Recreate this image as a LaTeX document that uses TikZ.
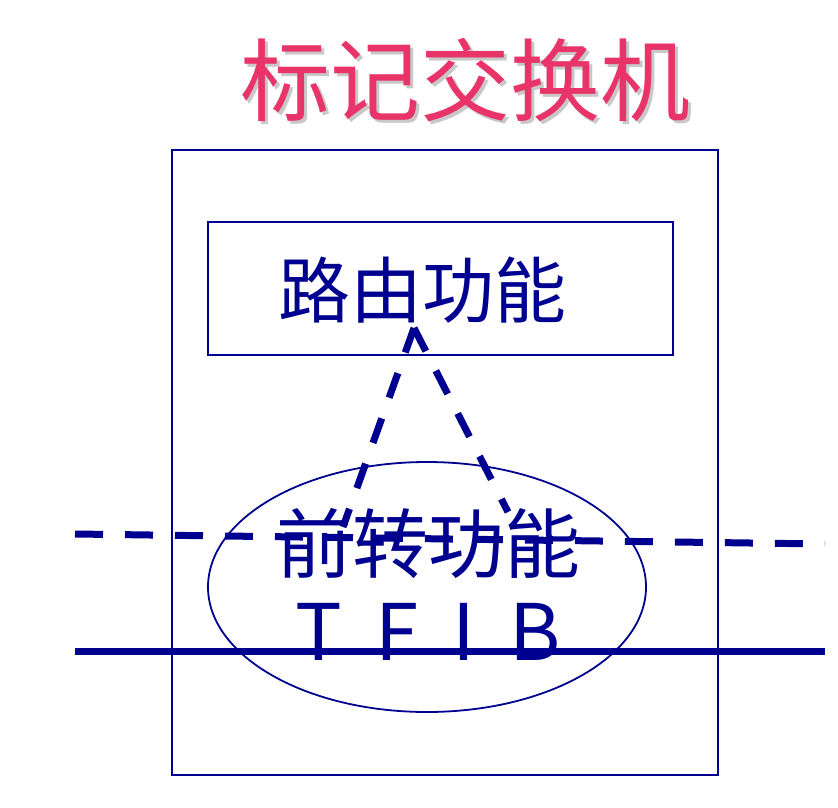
\documentclass[tikz,border=0pt]{standalone}
\usepackage{fontspec}
\newfontfamily\cjk{Noto Sans CJK SC}
\usepackage{tikz}
\usetikzlibrary{shapes.geometric}

\definecolor{navy}{RGB}{0,0,144}
\definecolor{titlepink}{RGB}{233,52,106}
\definecolor{shadowgray}{RGB}{200,200,200}

\begin{document}
\begin{tikzpicture}[x=1pt,y=-1pt,
  frame/.style={draw=navy,line width=1.8pt,inner sep=0pt},
  bigtext/.style={text=navy,inner sep=0pt,font=\cjk\fontsize{72}{72}\selectfont},
  dashline/.style={navy,line width=7pt,dash pattern=on 26pt off 22pt}]

\useasboundingbox (0,0) rectangle (838,808);

% Title with shadow
\node[inner sep=0pt,text=shadowgray,font=\cjk\fontsize{90}{90}\selectfont] (titleshadow) at (468,83) {标记交换机};
\node[inner sep=0pt,text=titlepink,font=\cjk\fontsize{90}{90}\selectfont] (title) at (465,80) {标记交换机};

% Switch box
\node[frame,minimum width=546pt,minimum height=625pt] (switch) at (445,462.5) {};

% Routing box
\node[frame,minimum width=465pt,minimum height=133pt] (route) at (440.5,288.5) {};
\node[bigtext] (routetext) at (422,290) {路由功能};

% Forwarding ellipse
\node[frame,ellipse,minimum width=438pt,minimum height=250pt] (fwd) at (427,587) {};

% Links between the two functions
\coordinate (apex) at (414,328);
\coordinate (leftfoot) at (343,527);
\coordinate (rightfoot) at (508,512);
\draw[dashline] (apex) -- (leftfoot);
\draw[dashline] (apex) -- (rightfoot);

% Labels in the ellipse
\node[bigtext,font={\cjk\fontsize{76}{76}\selectfont}] (fwdtext) at (428,543) {前转功能};
\node[bigtext,font={\cjk\fontsize{78}{78}\selectfont}] (tfib) at (428,632) {\spaceskip=34pt T F I B};

% Control plane and data plane
\coordinate (cin) at (75,534);
\coordinate (cout) at (825,544);
\draw[navy,line width=7pt,dash pattern=on 28pt off 22pt] (cin) -- (cout);
\coordinate (din) at (75,651);
\coordinate (dout) at (825,651);
\draw[navy,line width=7pt] (din) -- (dout);

\end{tikzpicture}
\end{document}
